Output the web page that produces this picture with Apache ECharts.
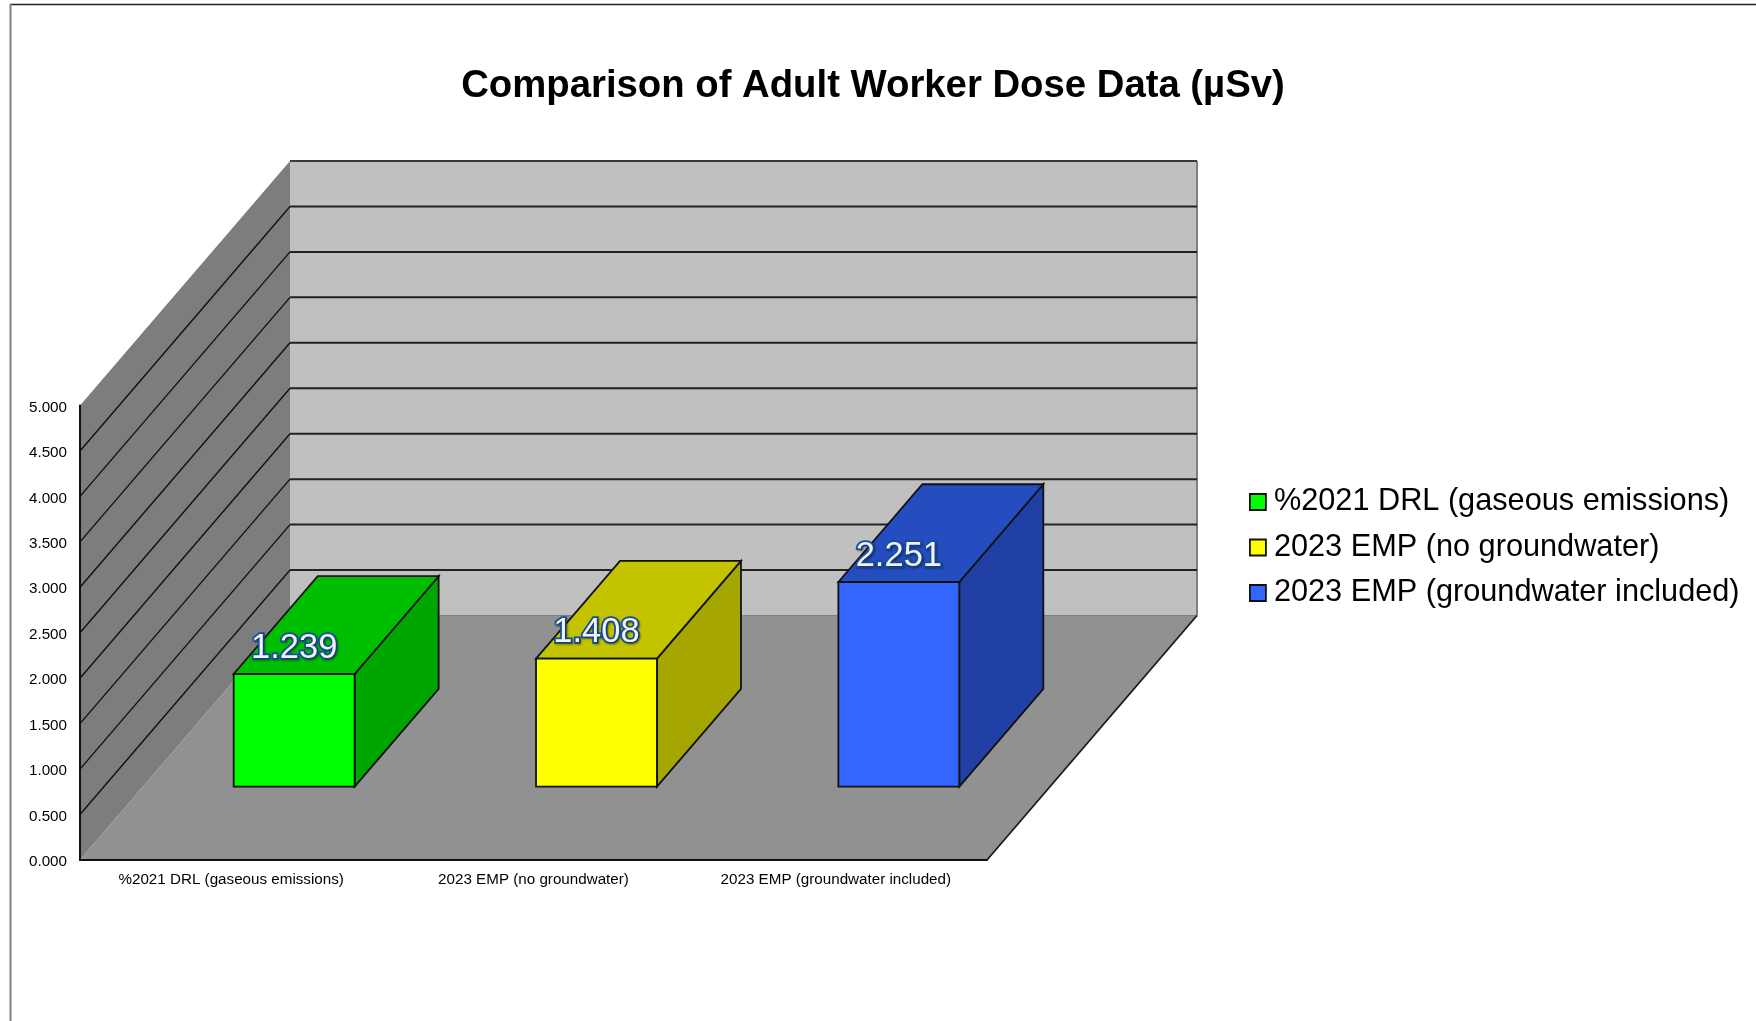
<!DOCTYPE html>
<html>
<head>
<meta charset="utf-8">
<style>html,body{margin:0;padding:0;background:#fff}#c{width:1756px;height:1021px}</style>
<script src="https://cdn.jsdelivr.net/npm/echarts@6/dist/echarts.min.js"></script>
</head>
<body>
<div id="c"></div>
<script>
const chartTitle = 'Comparison of Adult Worker Dose Data (µSv)';
const categories = ['%2021 DRL (gaseous emissions)', '2023 EMP (no groundwater)', '2023 EMP (groundwater included)'];
const values = [1.239, 1.408, 2.251];
const yTicks = [0.5, 1, 1.5, 2, 2.5, 3, 3.5, 4, 4.5, 5];
const yMax = 5;

const frontColors = ['#00FF00', '#FFFF00', '#3366FF'];
const topColors = ['#00BF00', '#C3C300', '#264DBF'];
const sideColors = ['#00A600', '#A6A600', '#2040A6'];

const DX = 210, DY = 244.5;      // depth vector of the 3D box, front to back
const BAR_NEAR = 0.3, BAR_FAR = 0.7, BAR_W = 0.4;
const FONT = '"Liberation Sans", Arial, sans-serif';

function poly(points, fill, stroke, lw, z2) {
  return { type: 'polygon', shape: { points }, z2: z2 || 0,
    style: { fill, stroke: stroke || 'none', lineWidth: lw || 0 } };
}
function line(x1, y1, x2, y2, stroke, lw, z2) {
  return { type: 'line', shape: { x1, y1, x2, y2 }, z2: z2 || 0, style: { stroke, lineWidth: lw } };
}

function renderWalls(params, api) {
  const g = params.coordSys;
  const l = g.x, r = g.x + g.width, b = g.y + g.height, t = g.y;
  return { type: 'group', children: [
    poly([[l + DX, t - DY], [r + DX, t - DY], [r + DX, b - DY], [l + DX, b - DY]], '#C0C0C0'),
    poly([[l, t], [l + DX, t - DY], [l + DX, b - DY], [l, b]], '#7D7D7D'),
    poly([[l, b], [l + DX, b - DY], [r + DX, b - DY], [r, b]], '#919191'),
    line(r + DX, t - DY, r + DX, b - DY, '#808080', 2),
    line(l + DX, b - DY, r + DX, b - DY, '#808080', 1),
    line(r, b, r + DX, b - DY, '#1a1a1a', 1.8)
  ]};
}

function renderTick(params, api) {
  const g = params.coordSys;
  const y = api.coord([0, api.value(1)])[1];
  const l = g.x, r = g.x + g.width;
  const atTop = api.value(1) === yMax;
  const ch = [line(l + DX, y - DY, r + DX, y - DY, atTop ? '#3a3a3a' : '#222222', 2)];
  if (!atTop) ch.push(line(l, y, l + DX, y - DY, '#111111', 1.4));
  return { type: 'group', children: ch };
}

function renderBar(idx) {
  return function (params, api) {
    const c = api.coord([api.value(0), api.value(1)]);
    const base = api.coord([api.value(0), 0]);
    const band = api.size([1, 0])[0];
    const w = band * BAR_W;
    const x1 = base[0] - w / 2 + DX * BAR_NEAR, x2 = x1 + w;
    const yb = base[1] - DY * BAR_NEAR, yt = c[1] - DY * BAR_NEAR;
    const dx = DX * (BAR_FAR - BAR_NEAR), dy = DY * (BAR_FAR - BAR_NEAR);
    return { type: 'group', children: [
      poly([[x2, yb], [x2 + dx, yb - dy], [x2 + dx, yt - dy], [x2, yt]], sideColors[idx], '#111', 1.8),
      poly([[x1, yt], [x1 + dx, yt - dy], [x2 + dx, yt - dy], [x2, yt]], topColors[idx], '#111', 1.8),
      poly([[x1, yb], [x2, yb], [x2, yt], [x1, yt]], frontColors[idx], '#111', 1.8),
      { type: 'text', z2: 10, style: {
          x: (x1 + x2) / 2, y: yt - 26,
          text: values[idx].toFixed(3), align: 'center', verticalAlign: 'middle',
          font: '34.5px ' + FONT, fill: '#F2F2F2', stroke: '#1550A0', lineWidth: 3.5,
          textShadowColor: 'rgba(0,0,0,0.35)', textShadowBlur: 2, textShadowOffsetX: 1, textShadowOffsetY: 1 } }
    ]};
  };
}

const series = [
  { type: 'custom', name: 'walls', z: 1, silent: true, renderItem: renderWalls,
    data: [[0, yMax]], encode: { x: 0, y: 1 } },
  { type: 'custom', name: 'ticks', z: 1.5, silent: true, renderItem: renderTick,
    data: yTicks.map(v => [0, v]), encode: { x: 0, y: 1 } }
];
categories.forEach((name, i) => {
  series.push({ type: 'custom', name, z: 2 + i, renderItem: renderBar(i),
    itemStyle: { color: frontColors[i] },
    data: [[i, values[i]]], encode: { x: 0, y: 1 } });
});

const chart = echarts.init(document.getElementById('c'), null, { renderer: 'canvas' });
chart.setOption({
  animation: false,
  backgroundColor: '#fff',
  title: { text: chartTitle, left: 868, top: 62, textAlign: 'center',
    textStyle: { fontFamily: FONT, fontSize: 38.3, fontWeight: 'bold', color: '#000' } },
  grid: { left: 80, top: 405.5, width: 907, height: 454.5, containLabel: false },
  xAxis: { type: 'category', data: categories, z: 8,
    axisLine: { show: true, lineStyle: { color: '#111', width: 2 } },
    axisTick: { show: false }, splitLine: { show: false },
    axisLabel: { margin: 12, interval: 0, color: '#000', fontFamily: FONT, fontSize: 15.2 } },
  yAxis: { type: 'value', min: 0, max: yMax, interval: 0.5, z: 8,
    axisLine: { show: true, lineStyle: { color: '#111', width: 2 } },
    axisTick: { show: false }, splitLine: { show: false },
    axisLabel: { margin: 13, color: '#000', fontFamily: FONT, fontSize: 15.2,
      formatter: v => '{t|' + v.toFixed(3) + '}',
      rich: { t: { fontFamily: FONT, fontSize: 15.2, color: '#000', padding: [4, 0, 0, 0] } } } },
  legend: { data: categories, orient: 'vertical', left: 1249, top: 486.5, padding: 0, itemWidth: 16, itemHeight: 16,
    itemGap: 14.5, icon: 'rect', selectedMode: false,
    itemStyle: { borderColor: '#111', borderWidth: 1.8 },
    textStyle: { fontFamily: FONT, fontSize: 30.7, color: '#000', padding: [0, 0, 0, 3] } },
  graphic: [
    { type: 'line', shape: { x1: 10, y1: 4.5, x2: 1756, y2: 4.5 }, style: { stroke: '#222', lineWidth: 1.5 } },
    { type: 'line', shape: { x1: 10.5, y1: 4, x2: 10.5, y2: 1021 }, style: { stroke: '#808080', lineWidth: 2 } }
  ],
  series
});
</script>
</body>
</html>
